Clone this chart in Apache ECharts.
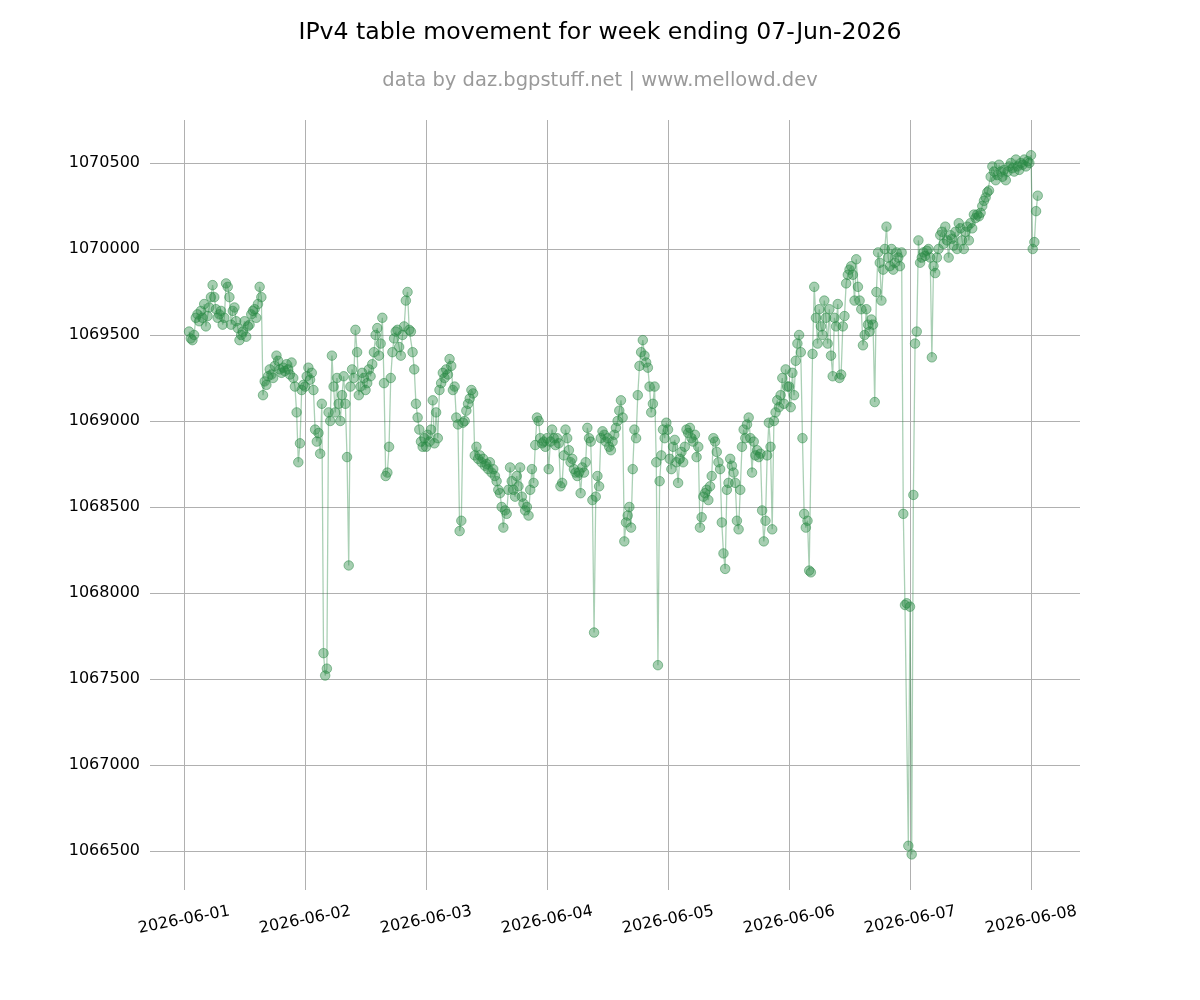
<!DOCTYPE html>
<html>
<head>
<meta charset="utf-8">
<script src="https://cdn.jsdelivr.net/npm/echarts@6/dist/echarts.min.js"></script>
<style>
html,body{margin:0;padding:0;background:#fff;}
#chart{width:1200px;height:1000px;}
</style>
</head>
<body>
<div id="chart"></div>
<script>
// Series: IPv4 table size sampled every 20 minutes starting 2026-06-01 01:00 UTC
const startTime = Date.UTC(2026, 5, 1, 1, 0, 0);
const stepMinutes = 20;

const day1 = [1069520,1069480,1069470,1069500,1069600,1069620,
  1069580,1069640,1069600,1069680,1069550,1069610,
  1069660,1069720,1069790,1069720,1069650,1069600,
  1069620,1069640,1069560,1069600,1069800,1069780,
  1069720,1069560,1069640,1069660,1069580,1069540,
  1069470,1069500,1069520,1069580,1069490,1069550,
  1069560,1069620,1069640,1069650,1069600,1069680,
  1069780,1069720,1069150,1069230,1069210,1069260,
  1069300,1069270,1069250,1069320,1069380,1069350,
  1069300,1069280,1069310,1069290,1069330,1069300,
  1069270,1069340,1069250,1069200,1069050,1068760,1068870,1069180,1069210];
const day2 = [1069200,1069260,1069310,1069240,1069280,1069180,
  1068950,1068880,1068930,1068810,1069100,1067650,
  1067520,1067560,1069050,1069000,1069380,1069200,
  1069050,1069250,1069100,1069000,1069150,1069260,
  1069100,1068790,1068160,1069200,1069300,1069250,
  1069530,1069400,1069150,1069200,1069280,1069250,
  1069180,1069220,1069300,1069260,1069330,1069400,
  1069500,1069540,1069380,1069450,1069600,1069220,
  1068680,1068700,1068850,1069250,1069400,1069480,
  1069520,1069530,1069430,1069380,1069500,1069550,
  1069700,1069750,1069530,1069520,1069400,1069300,
  1069100,1069020,1068950,1068880,1068850,1068900];
const day3 = [1068850,1068920,1068880,1068950,1069120,1068870,
  1069050,1068900,1069180,1069220,1069280,1069250,
  1069300,1069270,1069360,1069320,1069180,1069200,
  1069020,1068980,1068360,1068420,1068990,1069000,
  1069060,1069100,1069130,1069180,1069160,1068800,
  1068850,1068780,1068800,1068760,1068780,1068740,
  1068750,1068720,1068760,1068700,1068720,1068680,
  1068650,1068600,1068580,1068500,1068380,1068480,
  1068460,1068600,1068730,1068650,1068600,1068560,
  1068680,1068620,1068730,1068560,1068520,1068480,
  1068500,1068450,1068600,1068720,1068640,1068860,
  1069020,1069000,1068900,1068870,1068880,1068850];
const day4 = [1068900,1068720,1068880,1068950,1068900,1068860,
  1068900,1068870,1068620,1068640,1068800,1068950,
  1068900,1068830,1068760,1068780,1068720,1068700,
  1068680,1068700,1068580,1068730,1068700,1068760,
  1068960,1068900,1068880,1068540,1067770,1068560,
  1068680,1068620,1068900,1068940,1068920,1068880,
  1068900,1068850,1068830,1068880,1068920,1068960,
  1069000,1069060,1069120,1069020,1068300,1068410,
  1068450,1068500,1068380,1068720,1068950,1068900,
  1069150,1069320,1069400,1069470,1069380,1069340,
  1069310,1069200,1069050,1069100,1069200,1068760,
  1067580,1068650,1068800,1068950,1068900,1068990];
const day5 = [1068950,1068780,1068720,1068850,1068890,1068760,
  1068640,1068780,1068820,1068760,1068850,1068950,
  1068930,1068960,1068900,1068880,1068920,1068790,
  1068850,1068380,1068440,1068560,1068580,1068600,
  1068540,1068620,1068680,1068900,1068880,1068820,
  1068760,1068720,1068410,1068230,1068140,1068600,
  1068640,1068780,1068740,1068700,1068640,1068420,
  1068370,1068600,1068850,1068950,1068900,1068980,
  1069020,1068900,1068700,1068880,1068800,1068830,
  1068790,1068810,1068480,1068300,1068420,1068800,
  1068990,1068850,1068370,1069000,1069050,1069120,
  1069080,1069150,1069250,1069100,1069300,1069200];
const day6 = [1069200,1069080,1069280,1069150,1069350,1069450,
  1069500,1069400,1068900,1068460,1068380,1068420,
  1068130,1068120,1069390,1069780,1069600,1069450,
  1069650,1069550,1069500,1069700,1069600,1069450,
  1069650,1069380,1069260,1069600,1069550,1069680,
  1069250,1069270,1069550,1069610,1069800,1069850,
  1069880,1069900,1069850,1069700,1069940,1069780,
  1069700,1069650,1069440,1069500,1069650,1069560,
  1069520,1069590,1069560,1069110,1069750,1069980,
  1069920,1069700,1069880,1070000,1070130,1069950,
  1069900,1070000,1069880,1069920,1069980,1069950,
  1069900,1069980,1068460,1067930,1067940,1066530];
const day7 = [1067920,1066480,1068570,1069450,1069520,1070050,
  1069920,1069950,1069980,1069960,1069990,1070000,
  1069950,1069370,1069900,1069860,1069950,1070000,
  1070080,1070100,1070030,1070130,1070050,1069950,
  1070080,1070060,1070020,1070100,1070000,1070150,
  1070120,1070050,1070000,1070100,1070130,1070050,
  1070150,1070120,1070200,1070180,1070200,1070190,
  1070210,1070250,1070280,1070300,1070330,1070340,
  1070420,1070480,1070450,1070400,1070430,1070490,
  1070450,1070420,1070460,1070400,1070450,1070480,
  1070500,1070470,1070450,1070520,1070480,1070460,
  1070500,1070490,1070520,1070480,1070510,1070500];
const day8 = [1070545,1070000,1070040,1070220,1070310];

const yTicks = [1066500,1067000,1067500,1068000,1068500,1069000,1069500,1070000,1070500];
const xTickDays = ['2026-06-01','2026-06-02','2026-06-03','2026-06-04','2026-06-05','2026-06-06','2026-06-07','2026-06-08'];

const allValues = [].concat(day1, day2, day3, day4, day5, day6, day7, day8);
const seriesData = allValues.map((v, i) => [startTime + i * stepMinutes * 60000, v]);
const xTickValues = xTickDays.map(d => Date.parse(d + 'T00:00:00Z'));

function pad(n){return (n<10?'0':'')+n;}
function fmtDay(ts){const d=new Date(ts);return d.getUTCFullYear()+'-'+pad(d.getUTCMonth()+1)+'-'+pad(d.getUTCDate());}

const chart = echarts.init(document.getElementById('chart'), null, {renderer:'canvas'});
chart.setOption({
  animation: false,
  backgroundColor: '#ffffff',
  textStyle: {fontFamily: 'DejaVu Sans'},
  title: [
    {text: 'IPv4 table movement for week ending 07-Jun-2026', left: 'center', top: 16,
      textStyle: {fontFamily: 'DejaVu Sans', fontSize: 23.6, fontWeight: 'normal', color: '#000'}},
    {text: 'data by daz.bgpstuff.net | www.mellowd.dev', left: 'center', top: 66,
      textStyle: {fontFamily: 'DejaVu Sans', fontSize: 19.5, fontWeight: 'normal', color: '#9a9a9a'}}
  ],
  grid: {left: 150, right: 120, top: 120, bottom: 110, containLabel: false},
  xAxis: {
    type: 'value',
    min: Date.UTC(2026, 4, 31, 17, 15),
    max: Date.UTC(2026, 5, 8, 9, 43),
    axisLine: {show: false},
    axisTick: {show: false, customValues: xTickValues},
    axisLabel: {customValues: xTickValues, formatter: v => fmtDay(v), rotate: 11, align: 'center', verticalAlign: 'middle',
      margin: 30, fontSize: 16, color: '#000', fontFamily: 'DejaVu Sans', hideOverlap: false},
    splitLine: {show: true, lineStyle: {color: '#b0b0b0', width: 1}}
  },
  yAxis: {
    type: 'value',
    min: 1066273,
    max: 1070750,
    axisLine: {show: false},
    axisTick: {show: false, customValues: yTicks},
    axisLabel: {customValues: yTicks, formatter: v => String(v), margin: 10, fontSize: 16, color: '#000', fontFamily: 'DejaVu Sans'},
    splitLine: {show: true, lineStyle: {color: '#b0b0b0', width: 1}}
  },
  series: [{
    type: 'line',
    data: seriesData,
    symbol: 'circle',
    symbolSize: 9.5,
    showAllSymbol: true,
    lineStyle: {color: 'rgba(42,138,69,0.4)', width: 1.3},
    itemStyle: {color: 'rgba(42,138,69,0.42)', borderColor: 'rgba(42,138,69,0.5)', borderWidth: 1},
    emphasis: {disabled: true}
  }]
});
</script>
</body>
</html>
